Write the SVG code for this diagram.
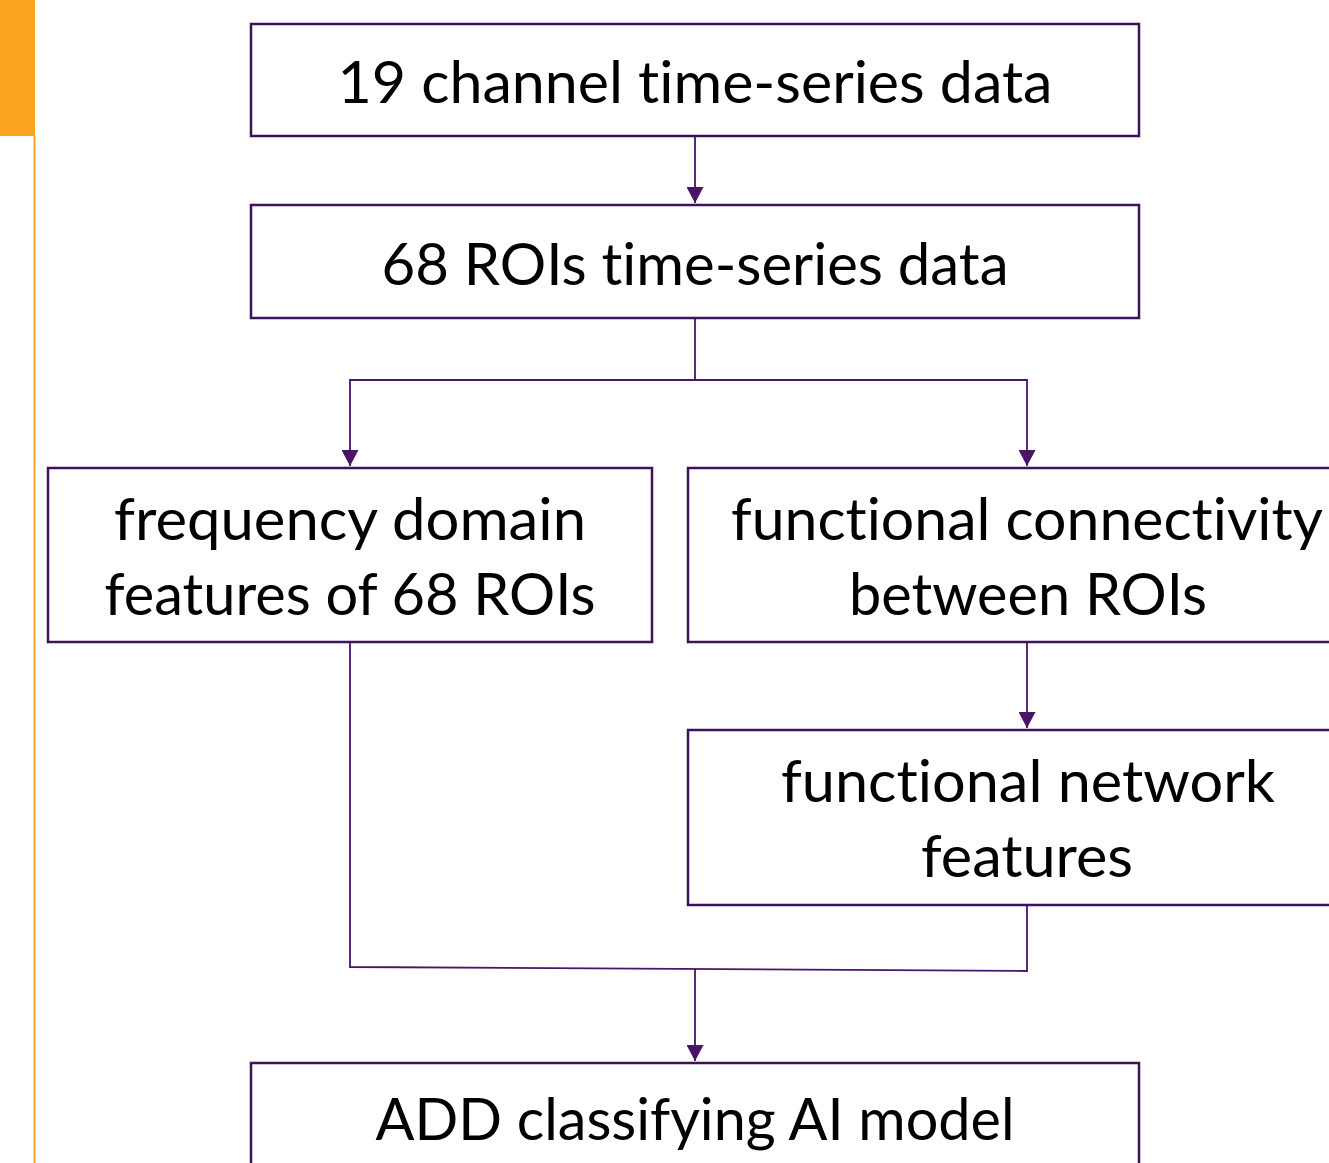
<svg xmlns="http://www.w3.org/2000/svg" width="1329" height="1163" viewBox="0 0 1329 1163">
<style>
.box{fill:#fff;stroke:#3e1258;stroke-width:2.5}
.t{font-family:Lato,"Open Sans","Liberation Sans",sans-serif;font-size:58px;fill:#000;text-anchor:middle;font-variant-ligatures:none}
.c{fill:none;stroke:#4a1468;stroke-width:1.8}
</style>
<defs>
<marker id="ah" markerUnits="userSpaceOnUse" markerWidth="17" markerHeight="17" refX="16" refY="8.5" orient="auto" viewBox="0 0 17 17">
<path d="M0,0 L16,8.5 L0,17 Z" fill="#4a1468"/>
</marker>
</defs>
<rect x="0" y="0" width="1329" height="1163" fill="#fff"/>
<g id="accent">
<rect x="0" y="0" width="35" height="136" fill="#fba31f"/>
<rect x="33.5" y="136" width="2" height="1027" fill="#fba31f"/>
</g>
<g id="connectors">
<line class="c" x1="695" y1="137" x2="695" y2="203" marker-end="url(#ah)"/>
<polyline class="c" points="695,319 695,380 350,380 350,466" marker-end="url(#ah)"/>
<polyline class="c" points="695,380 1027,380 1027,466" marker-end="url(#ah)"/>
<line class="c" x1="1027" y1="643" x2="1027" y2="728" marker-end="url(#ah)"/>
<polyline class="c" points="350,643 350,967 1027,971 1027,906"/>
<line class="c" x1="695" y1="969" x2="695" y2="1061" marker-end="url(#ah)"/>
</g>
<g id="n1"><rect class="box" x="251" y="24" width="888" height="112"/><text class="t" x="695" y="103" textLength="715" lengthAdjust="spacingAndGlyphs">19 channel time-series data</text></g>
<g id="n2"><rect class="box" x="251" y="205" width="888" height="113"/><text class="t" x="695" y="285" textLength="627" lengthAdjust="spacingAndGlyphs">68 ROIs time-series data</text></g>
<g id="n3"><rect class="box" x="48" y="468" width="604" height="174"/><text class="t" x="350" y="540" textLength="472" lengthAdjust="spacingAndGlyphs">frequency domain</text><text class="t" x="350" y="615" textLength="491" lengthAdjust="spacingAndGlyphs">features of 68 ROIs</text></g>
<g id="n4"><rect class="box" x="688" y="468" width="660" height="174"/><text class="t" x="1027" y="540" textLength="592" lengthAdjust="spacingAndGlyphs">functional connectivity</text><text class="t" x="1028" y="615" textLength="358" lengthAdjust="spacingAndGlyphs">between ROIs</text></g>
<g id="n5"><rect class="box" x="688" y="730" width="660" height="175"/><text class="t" x="1028" y="802" textLength="494" lengthAdjust="spacingAndGlyphs">functional network</text><text class="t" x="1027" y="877" textLength="212" lengthAdjust="spacingAndGlyphs">features</text></g>
<g id="n6"><rect class="box" x="251" y="1063" width="888" height="120"/><text class="t" x="695" y="1140" textLength="639" lengthAdjust="spacingAndGlyphs">ADD classifying AI model</text></g>
</svg>
